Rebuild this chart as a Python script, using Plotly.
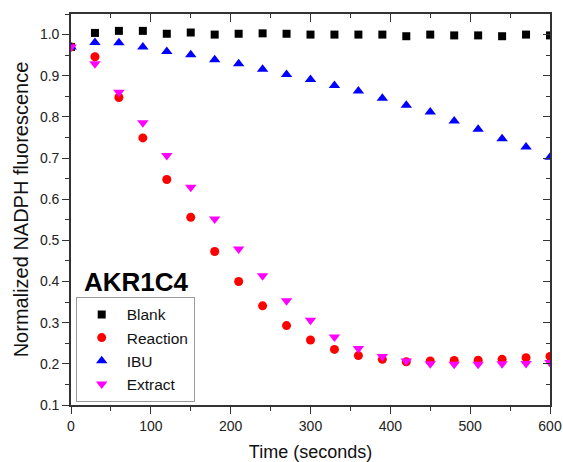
import plotly.graph_objects as go

time_s = [0, 30, 60, 90, 120, 150, 180, 210, 240, 270, 300,
          330, 360, 390, 420, 450, 480, 510, 540, 570, 600]

blank = [0.970, 1.004, 1.009, 1.009, 1.002, 1.005, 1.000, 1.002, 1.003, 1.002, 1.000,
         1.000, 1.000, 1.000, 0.996, 1.000, 0.998, 0.998, 0.996, 1.000, 0.998]
reaction = [0.970, 0.946, 0.847, 0.749, 0.648, 0.556, 0.473, 0.400, 0.341, 0.293, 0.258,
            0.235, 0.220, 0.211, 0.205, 0.207, 0.208, 0.209, 0.211, 0.215, 0.218]
ibu = [0.970, 0.981, 0.980, 0.970, 0.959, 0.951, 0.939, 0.929, 0.916, 0.903, 0.891,
       0.876, 0.863, 0.845, 0.828, 0.812, 0.790, 0.770, 0.747, 0.727, 0.702]
extract = [0.970, 0.929, 0.860, 0.786, 0.706, 0.629, 0.552, 0.479, 0.414, 0.353, 0.306,
           0.265, 0.237, 0.218, 0.207, 0.200, 0.199, 0.199, 0.200, 0.201, 0.203]

series = [
    ("Blank", blank, "square", "#000000", 8, "x", "y"),
    ("Reaction", reaction, "circle", "#ff0000", 9, "x", "y"),
    ("IBU", ibu, "triangle-up", "#0000ff", 10, "x", "y"),
    ("Extract", extract, "triangle-down", "#ff00ff", 10, "x2", "y2"),
]

FONT = "Liberation Sans, Arial, sans-serif"
AXC = "#333333"

fig = go.Figure()
for name, vals, sym, col, sz, xa, ya in series:
    fig.add_trace(go.Scatter(
        x=time_s, y=vals, mode="markers", name=name, xaxis=xa, yaxis=ya,
        marker=dict(symbol=sym, color=col, size=sz, line=dict(width=0)),
    ))

fig.update_layout(
    width=563, height=462,
    margin=dict(l=71, r=13, t=14, b=57, autoexpand=False),
    paper_bgcolor="white", plot_bgcolor="white",
    font=dict(family=FONT, color="#111111"),
    showlegend=True,
    legend=dict(
        x=0.0098, y=0.008, xanchor="left", yanchor="bottom",
        bordercolor="#9a9a9a", borderwidth=1, bgcolor="white",
        font=dict(size=15.5, family=FONT, color="#111111"),
        itemwidth=40, tracegroupgap=0,
    ),
    xaxis=dict(
        range=[0, 600], dtick=100, tick0=0, automargin=False,
        ticks="outside", ticklen=7, tickwidth=1.3, tickcolor=AXC,
        minor=dict(ticks="outside", ticklen=4, dtick=50, tickwidth=1.3, tickcolor=AXC),
        showline=True, linecolor=AXC, linewidth=1.6,
        showgrid=False, zeroline=False,
        tickfont=dict(size=14, family=FONT, color="#222222"),
        title=dict(text="Time (seconds)", font=dict(size=18, family=FONT, color="#111111"), standoff=14),
    ),
    yaxis=dict(
        range=[0.1, 1.05], dtick=0.1, tick0=0.1, tickformat=".1f", automargin=False,
        ticks="outside", ticklen=7, tickwidth=1.3, tickcolor=AXC,
        minor=dict(ticks="outside", ticklen=4, dtick=0.05, tickwidth=1.3, tickcolor=AXC),
        showline=True, linecolor=AXC, linewidth=1.6,
        showgrid=False, zeroline=False,
        tickfont=dict(size=14, family=FONT, color="#222222"),
        title=dict(text="Normalized NADPH fluorescence", font=dict(size=20, family=FONT, color="#111111"), standoff=6),
    ),
    xaxis2=dict(
        overlaying="x", side="top", range=[0, 600], dtick=100, tick0=0, automargin=False,
        ticks="inside", ticklen=8, tickwidth=1.3, tickcolor=AXC,
        minor=dict(ticks="inside", ticklen=4, dtick=50, tickwidth=1.3, tickcolor=AXC),
        showline=True, linecolor=AXC, linewidth=1.6,
        showticklabels=False, showgrid=False, zeroline=False,
    ),
    yaxis2=dict(
        overlaying="y", side="right", range=[0.1, 1.05], dtick=0.1, tick0=0.1, automargin=False,
        ticks="inside", ticklen=7, tickwidth=1.3, tickcolor=AXC,
        minor=dict(ticks="inside", ticklen=4, dtick=0.05, tickwidth=1.3, tickcolor=AXC),
        showline=True, linecolor=AXC, linewidth=1.6,
        showticklabels=False, showgrid=False, zeroline=False,
    ),
    annotations=[dict(
        text="<b>AKR1C4</b>", x=0.024, y=0.315, xref="paper", yref="paper",
        xanchor="left", yanchor="middle", showarrow=False,
        font=dict(size=26, family=FONT, color="#000000"),
    )],
)

fig.write_html("out.html")
